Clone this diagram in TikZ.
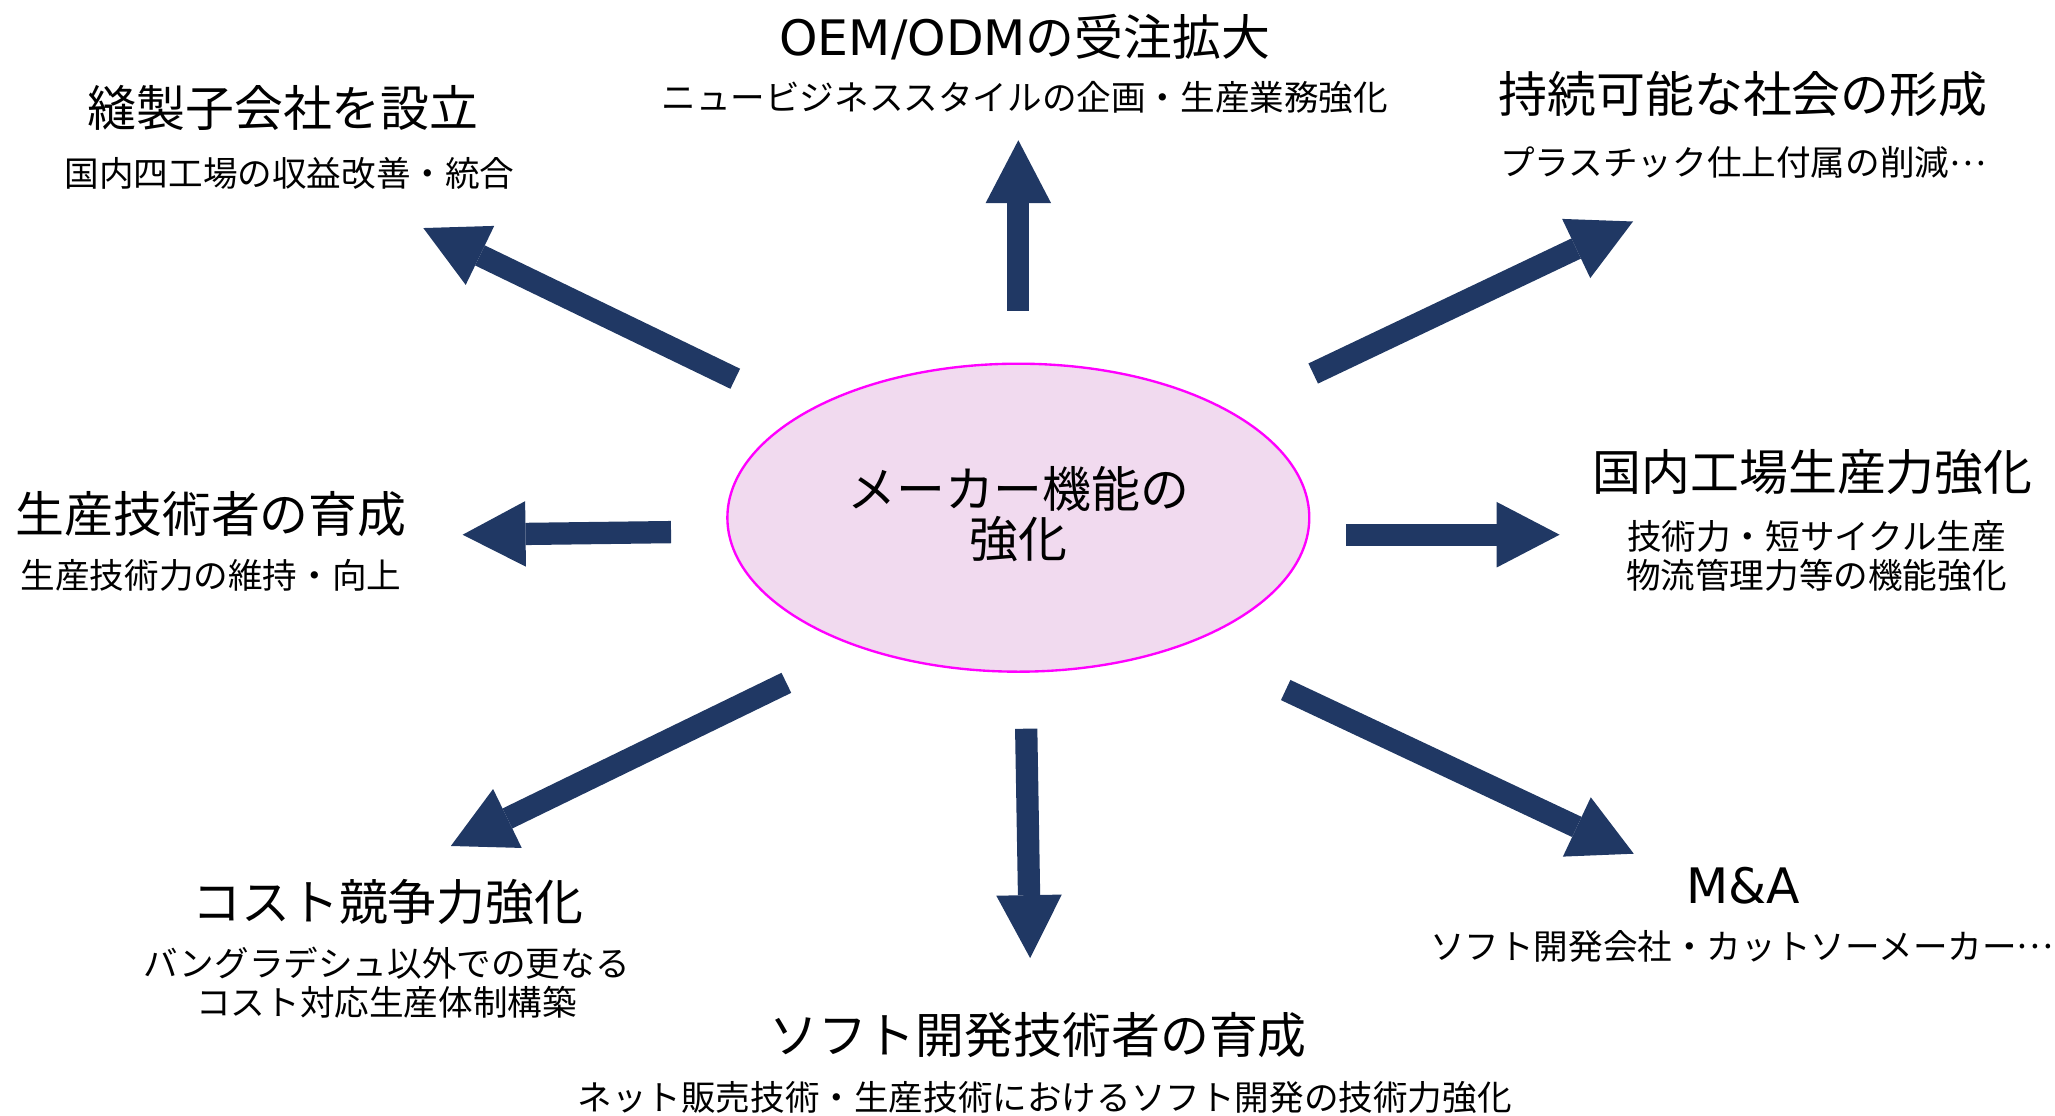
\documentclass[tikz,border=0pt]{standalone}
\usepackage{fontspec}
\setmainfont{Noto Sans CJK JP}
\newfontfamily\lat{DejaVu Sans}
\newcommand{\jdots}{\raisebox{0.3em}{…}}
\usetikzlibrary{arrows.meta,shapes.geometric}
\definecolor{navy}{HTML}{203864}
\definecolor{pinkfill}{HTML}{F1DAEF}
\definecolor{magline}{HTML}{FF00FF}
\tikzset{
  ttl/.style={inner sep=0pt, align=center, font=\fontsize{37.3}{38}\selectfont},
  sub/.style={inner sep=0pt, align=center, font=\fontsize{26.4}{29.5}\selectfont},
  bigarrow/.style={draw=navy, line width=17pt, line cap=butt,
    -{Triangle[length=48pt,width=50pt,line width=0pt]}}
}
\begin{document}
\begin{tikzpicture}[x=1pt,y=-1pt]
\useasboundingbox (0,0) rectangle (1568,850.8);
% centre
\node[ellipse, draw=magline, fill=pinkfill, line width=1.8pt,
      minimum width=444pt, minimum height=235pt, inner sep=0pt] (core) at (777,395) {};
\node[ttl] (coretext) at (777,392) {メーカー機能の\\強化};
% labels
\node[ttl] (t1) at (216,82) {縫製子会社を設立};
\node[sub] (s1) at (221,132) {国内四工場の収益改善・統合};
\node[ttl] (t2) at (782,28) {{\lat OEM/ODM}の受注拡大};
\node[sub] (s2) at (782,74) {ニュービジネススタイルの企画・生産業務強化};
\node[ttl] (t3) at (1330,72) {持続可能な社会の形成};
\node[sub] (s3) at (1330,124) {プラスチック仕上付属の削減\jdots};
\node[ttl] (t4) at (1383,360) {国内工場生産力強化};
\node[sub] (s4) at (1386,424) {技術力・短サイクル生産\\物流管理力等の機能強化};
\node[ttl] (t5) at (161,392) {生産技術者の育成};
\node[sub] (s5) at (161,439) {生産技術力の維持・向上};
\node[ttl] (t6) at (296,688) {コスト競争力強化};
\node[sub] (s6) at (295,750) {バングラデシュ以外での更なる\\コスト対応生産体制構築};
\node[ttl] (t7) at (792,790) {ソフト開発技術者の育成};
\node[sub] (s7) at (797,837) {ネット販売技術・生産技術におけるソフト開発の技術力強化};
\node[ttl] (t8) at (1330,676) {{\lat M\&A}};
\node[sub] (s8) at (1329,722) {ソフト開発会社・カットソーメーカー\jdots};
% arrow ends
\coordinate (a1s) at (777,237);   \coordinate (a1e) at (777,107);
\coordinate (a2s) at (561,289);   \coordinate (a2e) at (323,174);
\coordinate (a3s) at (1002,285);  \coordinate (a3e) at (1246,169);
\coordinate (a4s) at (1027,408);  \coordinate (a4e) at (1190,408);
\coordinate (a5s) at (512,406);   \coordinate (a5e) at (353,408);
\coordinate (a6s) at (600,521);   \coordinate (a6e) at (344,645.5);
\coordinate (a7s) at (783,556);   \coordinate (a7e) at (786,731);
\coordinate (a8s) at (981,526.5); \coordinate (a8e) at (1246.6,651.4);
\foreach \i in {1,...,8} {\draw[bigarrow] (a\i s) -- (a\i e);}
\end{tikzpicture}
\end{document}
